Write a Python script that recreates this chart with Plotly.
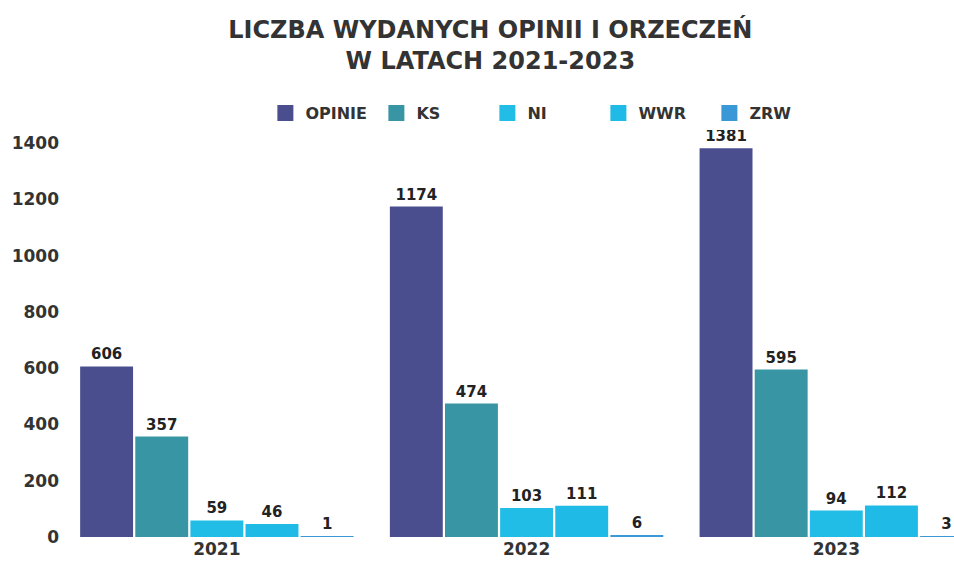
import plotly.graph_objects as go

years = ["2021", "2022", "2023"]
series_names = ["OPINIE", "KS", "NI", "WWR", "ZRW"]
opinie = [606, 1174, 1381]
ks = [357, 474, 595]
ni = [59, 103, 94]
wwr = [46, 111, 112]
zrw = [1, 6, 3]
y_ticks = [0, 200, 400, 600, 800, 1000, 1200, 1400]

colors = ["#4a4e8e", "#3896a4", "#22bde6", "#1fbbe6", "#3b98d6"]
values = [opinie, ks, ni, wwr, zrw]
FONT = "DejaVu Sans"

fig = go.Figure()
for name, vals, col in zip(series_names, values, colors):
    fig.add_trace(go.Bar(
        name=name, x=years, y=vals, legendgroup=name, showlegend=False,
        marker=dict(color=col, line=dict(width=0)),
        text=[str(v) for v in vals], textposition="outside",
        textfont=dict(family=FONT, size=15, color="#222222", weight="bold"),
        cliponaxis=False,
    ))
# legend swatches (square markers, no data drawn)
for name, col in zip(series_names, colors):
    fig.add_trace(go.Scatter(
        name=name, x=[None], y=[None], mode="markers", legendgroup=name,
        marker=dict(symbol="square", size=16, color=col),
        showlegend=True,
    ))

fig.update_layout(
    width=954, height=561,
    paper_bgcolor="white", plot_bgcolor="white",
    margin=dict(l=62, r=0, t=143, b=24),
    barmode="group", bargap=0.11, bargroupgap=0.04,
    title=dict(
        text="LICZBA WYDANYCH OPINII I ORZECZEŃ<br>W LATACH 2021-2023",
        x=0.514, xanchor="center", y=0.932, yanchor="top",
        font=dict(family=FONT, size=24, color="#333333", weight="bold"),
    ),
    legend=dict(
        orientation="h", x=0.228, xanchor="left", y=1.076, yanchor="middle",
        font=dict(family=FONT, size=16, color="#333333", weight="bold"),
        itemwidth=30, entrywidth=66, entrywidthmode="pixels",
        traceorder="normal",
    ),
    xaxis=dict(
        range=[-0.5, 2.38], showgrid=False, showline=False, ticks="",
        automargin=False, ticklabelstandoff=0,
        tickfont=dict(family=FONT, size=17, color="#333333", weight="bold"),
    ),
    yaxis=dict(
        range=[0, 1400], tickvals=y_ticks, showgrid=False, zeroline=False,
        showline=False, ticks="", ticklabelstandoff=2, automargin=False,
        tickfont=dict(family=FONT, size=17, color="#333333", weight="bold"),
    ),
)

fig.write_html("out.html", config={"displayModeBar": False},
               post_script="document.body.style.margin='0';")
